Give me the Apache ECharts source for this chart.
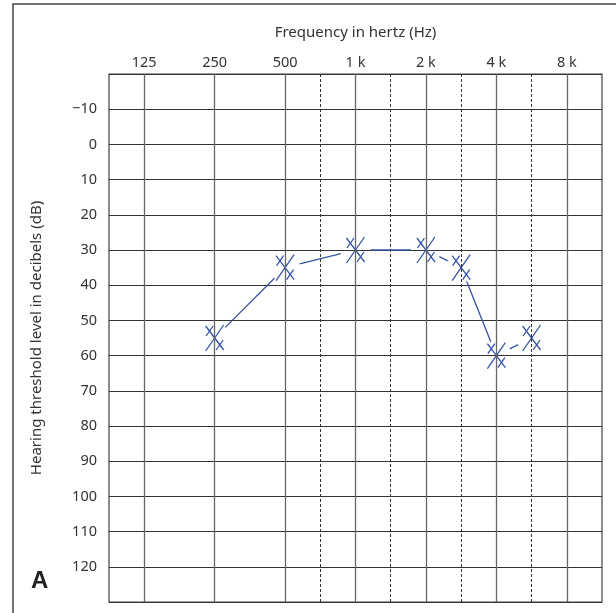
<!DOCTYPE html>
<html>
<head>
<meta charset="utf-8">
<script src="https://cdn.jsdelivr.net/npm/echarts@6/dist/echarts.min.js"></script>
<style>
  html, body { margin: 0; padding: 0; background: #fff; }
  #chart { width: 616px; height: 613px; }
</style>
</head>
<body>
<div id="chart"></div>
<script>
// audiogram data (left ear, X symbols)
const freqs = [250, 500, 1000, 2000, 3000, 4000, 6000];
const thresholds = [55, 35, 30, 30, 35, 60, 55];

// axis labels / grid lines
const octaveFreqs = [125, 250, 500, 1000, 2000, 4000, 8000];
const octaveLabels = ['125', '250', '500', '1 k', '2 k', '4 k', '8 k'];
const midFreqs = [750, 1500, 3000, 6000];
const dbTicks = [-10, 0, 10, 20, 30, 40, 50, 60, 70, 80, 90, 100, 110, 120];

const FONT = 'Noto Sans';
const BLUE = '#3553a5';

// octave position on the audiogram, 125 Hz = 0.5 (half an octave from the left edge)
const posOf = (f) => {
  const k = Math.floor(Math.log2(f / 125) + 1e-9);
  const r = f / (125 * Math.pow(2, k));
  return k + (Math.abs(r - 1) < 1e-6 ? 0 : 0.5) + 0.5;
};

const points = freqs.map((f, i) => [posOf(f), thresholds[i]]);

const vLines = octaveFreqs.map(f => ({
  xAxis: posOf(f),
  lineStyle: { color: '#666', width: 1.3, type: 'solid' }
})).concat(midFreqs.map(f => ({
  xAxis: posOf(f),
  lineStyle: { color: '#333', width: 1, type: [3, 2] }
})));

const chart = echarts.init(document.getElementById('chart'));
chart.setOption({
  animation: false,
  textStyle: { fontFamily: FONT },
  grid: {
    left: 109, top: 74, right: 14, bottom: 11,
    show: true, borderColor: '#444', borderWidth: 1.2
  },
  xAxis: {
    type: 'value',
    position: 'top',
    min: 0, max: 7, interval: 0.5,
    name: 'Frequency in hertz (Hz)',
    nameLocation: 'middle',
    nameGap: 34,
    nameTextStyle: { fontSize: 15, color: '#333', fontFamily: FONT },
    axisLine: { show: false },
    axisTick: { show: false },
    splitLine: { show: false },
    axisLabel: {
      margin: 4,
      fontSize: 14.5,
      color: '#333',
      fontFamily: FONT,
      formatter: (v) => {
        const idx = octaveFreqs.findIndex(f => Math.abs(posOf(f) - v) < 1e-6);
        return idx >= 0 ? octaveLabels[idx] : '';
      }
    }
  },
  yAxis: {
    type: 'value',
    inverse: true,
    min: -20, max: 130, interval: 10,
    name: 'Hearing threshold level in decibels (dB)',
    nameLocation: 'middle',
    nameGap: 65,
    nameTextStyle: { fontSize: 15, color: '#333', fontFamily: FONT },
    axisLine: { show: false },
    axisTick: { show: false },
    splitLine: { show: true, lineStyle: { color: '#333', width: 1 } },
    axisLabel: {
      margin: 12,
      fontSize: 14.5,
      color: '#333',
      fontFamily: FONT,
      formatter: (v) => dbTicks.indexOf(v) < 0 ? '' : (v < 0 ? '\u2212' + Math.abs(v) : String(v))
    }
  },
  graphic: [
    {
      type: 'polyline',
      shape: { points: [[13, 613], [13, 4], [616, 4]] },
      style: { stroke: '#444', lineWidth: 1.5, fill: null }
    },
    {
      type: 'text',
      left: 31, top: 569,
      style: { text: 'A', fontSize: 24, fontWeight: 'bold', fill: '#222', fontFamily: 'Liberation Sans' }
    }
  ],
  series: [
    {
      // connecting segments, stopped short of each symbol
      type: 'custom',
      silent: true,
      data: points,
      markLine: {
        silent: true,
        symbol: ['none', 'none'],
        label: { show: false },
        data: vLines
      },
      renderItem: (params, api) => {
        const i = params.dataIndex;
        if (i === 0) return;
        const a = api.coord(points[i - 1]);
        const b = api.coord(points[i]);
        const dx = b[0] - a[0], dy = b[1] - a[1];
        const len = Math.sqrt(dx * dx + dy * dy);
        const gap = 15;
        if (len <= gap * 2) return;
        const ux = dx / len, uy = dy / len;
        return {
          type: 'line',
          shape: {
            x1: a[0] + ux * gap, y1: a[1] + uy * gap,
            x2: b[0] - ux * gap, y2: b[1] - uy * gap
          },
          style: { stroke: BLUE, lineWidth: 1.3 }
        };
      }
    },
    {
      // X symbols
      type: 'custom',
      silent: true,
      data: points,
      renderItem: (params, api) => {
        const c = api.coord([api.value(0), api.value(1)]);
        const segs = [
          [-9, 13, 9, -13],
          [-9, -12, 9, 12],
          [-8.5, -2, -1.5, -12],
          [1.5, 12, 8.5, 2]
        ];
        return {
          type: 'group',
          children: segs.map(s => ({
            type: 'line',
            shape: { x1: c[0] + s[0], y1: c[1] + s[1], x2: c[0] + s[2], y2: c[1] + s[3] },
            style: { stroke: BLUE, lineWidth: 1.3 }
          }))
        };
      }
    }
  ]
});
</script>
</body>
</html>
